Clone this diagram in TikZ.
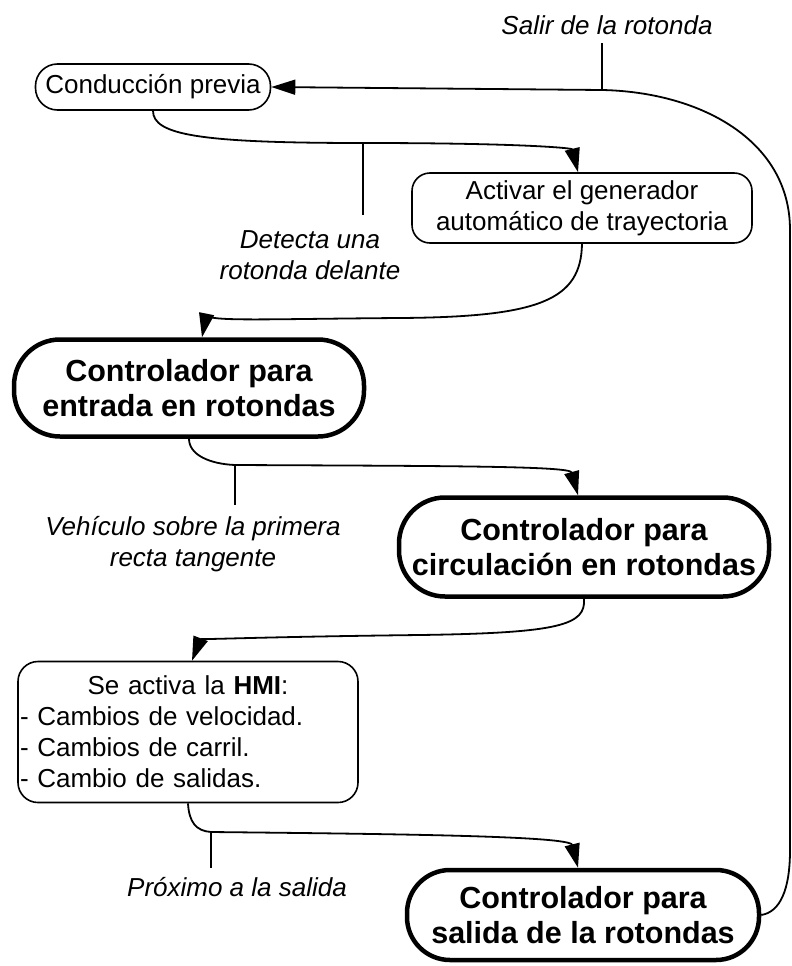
\documentclass[tikz,border=0pt]{standalone}
\usepackage{fontspec}
\setmainfont{Liberation Sans}
\usetikzlibrary{arrows.meta}
\begin{document}
\begin{tikzpicture}[x=1pt,y=-1pt,
  thinbox/.style={draw, line width=1.6pt, inner sep=0pt, align=center, font=\fontsize{26}{31}\selectfont},
  ctrlbox/.style={draw, line width=4.5pt, inner sep=0pt, align=center, font=\fontsize{30.5}{35}\selectfont\bfseries},
  conn/.style={line width=1.8pt, -{Triangle[length=24pt,width=15pt]}},
  tickline/.style={line width=1.6pt},
  lab/.style={align=center, font=\fontsize{26}{31}\selectfont\itshape}]
\useasboundingbox (0,0) rectangle (792,966);

% boxes
\node[thinbox, minimum width=235pt, minimum height=46pt, rounded corners=22pt] (cond) at (153,87) {Conducción previa};
\node[thinbox, minimum width=340pt, minimum height=70pt, rounded corners=18pt] (act) at (582,208) {Activar el generador\\automático de trayectoria};
\node[ctrlbox, minimum width=350pt, minimum height=97pt, rounded corners=46pt] (ent) at (189,388) {Controlador para\\entrada en rotondas};
\node[ctrlbox, minimum width=370pt, minimum height=99pt, rounded corners=46pt] (circ) at (584,547) {Controlador para\\circulación en rotondas};
\node[thinbox, minimum width=340pt, minimum height=141pt, rounded corners=20pt, align=left, text width=336pt, inner sep=2pt] (hmi) at (188,732) {\makebox[336pt]{Se activa la \textbf{HMI}:}\\- Cambios de velocidad.\\- Cambios de carril.\\- Cambio de salidas.};
\node[ctrlbox, minimum width=352pt, minimum height=90pt, rounded corners=43pt] (sal) at (583,915) {Controlador para\\salida de la rotondas};

% labels
\node[lab] (l0) at (607,25) {Salir de la rotonda};
\node[lab] (l1) at (310,255) {Detecta una\\rotonda delante};
\node[lab] (l2) at (193,544) {Vehículo sobre la primera\\recta tangente};
\node[lab] (l3) at (237,887) {Próximo a la salida};

% junction coordinates
\coordinate (t0) at (602,90);
\coordinate (t0e) at (602,43);
\coordinate (t1) at (363,143);
\coordinate (t1e) at (363,215);
\coordinate (t2) at (235,465);
\coordinate (t2e) at (235,505);
\coordinate (t3) at (211,832);
\coordinate (t3e) at (211,868);
\coordinate (m2) at (400,318);
\coordinate (m4) at (420,635);
\coordinate (r1) at (790,850);
\coordinate (r2) at (790,230);

% connectors
\draw[conn] (cond.south) .. controls (153,135) and (200,143) .. (t1) .. controls (520,143) and (572,148) .. ([xshift=-4pt]act.north);
\draw[conn] (act.south) .. controls (581,300) and (540,317) .. (m2) .. controls (260,319) and (205,322) .. ([xshift=13pt]ent.north);
\draw[conn] (ent.south) .. controls (189,455) and (210,464) .. (t2) .. controls (450,466) and (570,466) .. ([xshift=-6pt]circ.north);
\draw[conn] (circ.south) .. controls (586,625) and (560,633) .. (m4) .. controls (250,637) and (200,640) .. ([xshift=4pt]hmi.north);
\draw[conn] (hmi.south) .. controls (189,822) and (196,831) .. (t3) .. controls (400,834) and (570,836) .. ([xshift=-5pt]sal.north);
\draw[conn] (sal.east) .. controls (780,912) and (790,890) .. (r1) -- (r2) .. controls (790,140) and (700,92) .. (t0) -- (cond.east);

% label ticks
\draw[tickline] (t0) -- (t0e);
\draw[tickline] (t1) -- (t1e);
\draw[tickline] (t2) -- (t2e);
\draw[tickline] (t3) -- (t3e);
\end{tikzpicture}
\end{document}
